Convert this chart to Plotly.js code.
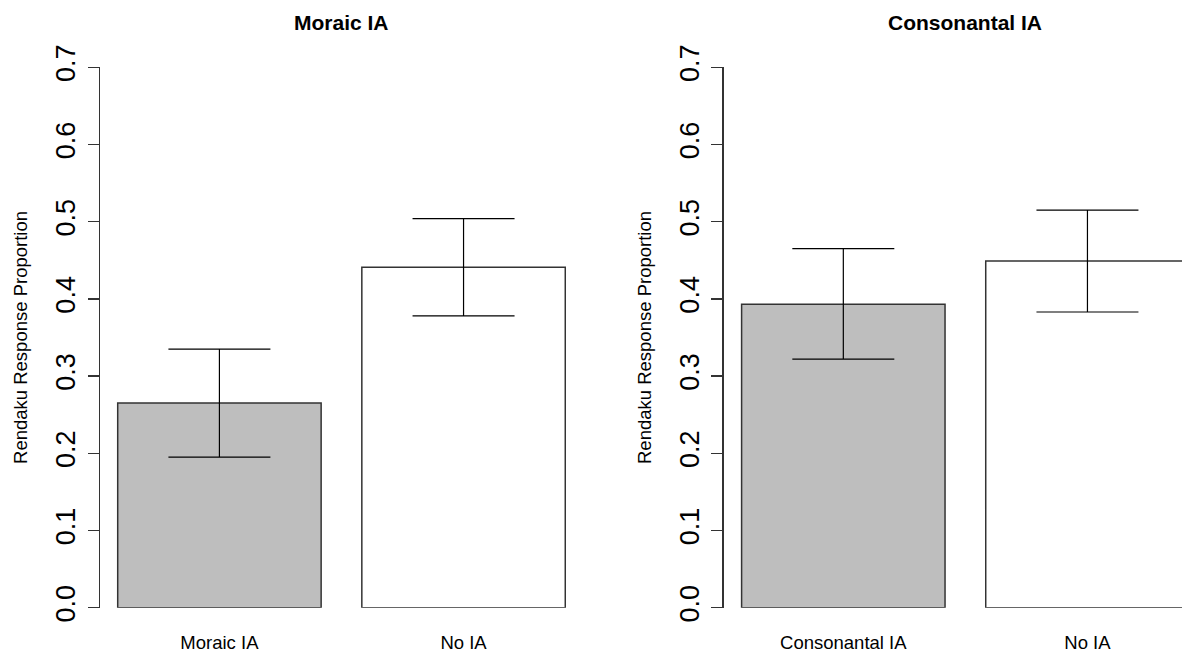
<!DOCTYPE html>
<html>
<head>
<meta charset="utf-8">
<script src="https://cdn.plot.ly/plotly-3.0.1.min.js"></script>
<style>
  html, body { margin: 0; padding: 0; background: #ffffff; }
  #chart { width: 1182px; height: 652px; }
</style>
</head>
<body>
<div id="chart"></div>
<script>
// ---- Data ----
const panelTitles = ["Moraic IA", "Consonantal IA"];
const moraicCategories = ["Moraic IA", "No IA"];
const moraicMeans = [0.265, 0.441];
const moraicUpper = [0.335, 0.504];
const moraicLower = [0.195, 0.378];

const consCategories = ["Consonantal IA", "No IA"];
const consMeans = [0.393, 0.449];
const consUpper = [0.465, 0.515];
const consLower = [0.322, 0.383];

const barPositions = [0.7, 1.9];   // R barplot default positions (width 1, space 0.2)
const barColors = ["#bebebe", "#ffffff"];
const yTitle = "Rendaku Response Proportion";
const yTickVals = [0, 0.1, 0.2, 0.3, 0.4, 0.5, 0.6, 0.7];
const yTickText = ["0.0", "0.1", "0.2", "0.3", "0.4", "0.5", "0.6", "0.7"];

// ---- Geometry (pixels) ----
const W = 1182, H = 652;
const FONT = "Liberation Sans, Arial, Helvetica, sans-serif";
const unitPx = 203.44;
const xMin = 0.112;
const leftL = 99.8, leftR = 583.2;
const rightL = 723.7;
const yZeroPx = 607.7, yTopPx = 67.3;
const plotBottomPx = 629.3;

function barTrace(means, upper, lower, xa, ya) {
  return {
    type: "bar",
    x: barPositions,
    y: means,
    width: 1,
    xaxis: xa, yaxis: ya,
    marker: { color: barColors, line: { color: "#333333", width: 1.5 } },
    error_y: {
      type: "data",
      symmetric: false,
      array: upper.map((u, i) => u - means[i]),
      arrayminus: lower.map((l, i) => means[i] - l),
      color: "#000000",
      thickness: 1.2,
      width: 51
    },
    hoverinfo: "skip",
    showlegend: false
  };
}

const traces = [
  barTrace(moraicMeans, moraicUpper, moraicLower, "x", "y"),
  barTrace(consMeans, consUpper, consLower, "x2", "y2")
];

const yDomain = [1 - yZeroPx / H, 1 - yTopPx / H];

function yAxis(anchor) {
  return {
    anchor: anchor,
    domain: yDomain,
    range: [0, 0.7],
    tickvals: yTickVals,
    ticktext: yTickText,
    tickangle: -90,
    tickfont: { family: FONT, size: 27, color: "#000000" },
    ticks: "outside",
    ticklen: 11,
    tickwidth: 1.3,
    tickcolor: "#333333",
    ticklabelstandoff: 2,
    showline: true,
    linecolor: "#333333",
    linewidth: 1.3,
    showgrid: false,
    zeroline: false,
    fixedrange: true,
    title: { text: yTitle, font: { family: FONT, size: 18.5, color: "#000000" }, standoff: 18 }
  };
}

function xAxis(domain, rangeMax, cats) {
  return {
    domain: domain,
    anchor: "free",
    position: 1 - plotBottomPx / H,
    range: [xMin, rangeMax],
    tickvals: barPositions,
    ticktext: cats,
    ticks: "",
    showline: false,
    showgrid: false,
    zeroline: false,
    fixedrange: true,
    tickfont: { family: FONT, size: 18.5, color: "#000000" }
  };
}

const layout = {
  width: W, height: H,
  autosize: false,
  margin: { l: 0, r: 0, t: 0, b: 0, pad: 0 },
  paper_bgcolor: "#ffffff",
  plot_bgcolor: "rgba(0,0,0,0)",
  font: { family: FONT, color: "#000000" },
  bargap: 0,
  xaxis: xAxis([leftL / W, leftR / W], xMin + (leftR - leftL) / unitPx, moraicCategories),
  xaxis2: xAxis([rightL / W, 1], xMin + (W - rightL) / unitPx, consCategories),
  yaxis: yAxis("x"),
  yaxis2: yAxis("x2"),
  annotations: [
    { text: "<b>" + panelTitles[0] + "</b>", xref: "paper", yref: "paper",
      x: (leftL + leftR) / 2 / W, y: 1 - 22 / H, xanchor: "center", yanchor: "middle",
      showarrow: false, font: { family: FONT, size: 21, color: "#000000" } },
    { text: "<b>" + panelTitles[1] + "</b>", xref: "paper", yref: "paper",
      x: (rightL + rightL + (leftR - leftL)) / 2 / W, y: 1 - 22 / H, xanchor: "center", yanchor: "middle",
      showarrow: false, font: { family: FONT, size: 21, color: "#000000" } }
  ]
};

Plotly.newPlot("chart", traces, layout, { displayModeBar: false, staticPlot: true });
</script>
</body>
</html>
